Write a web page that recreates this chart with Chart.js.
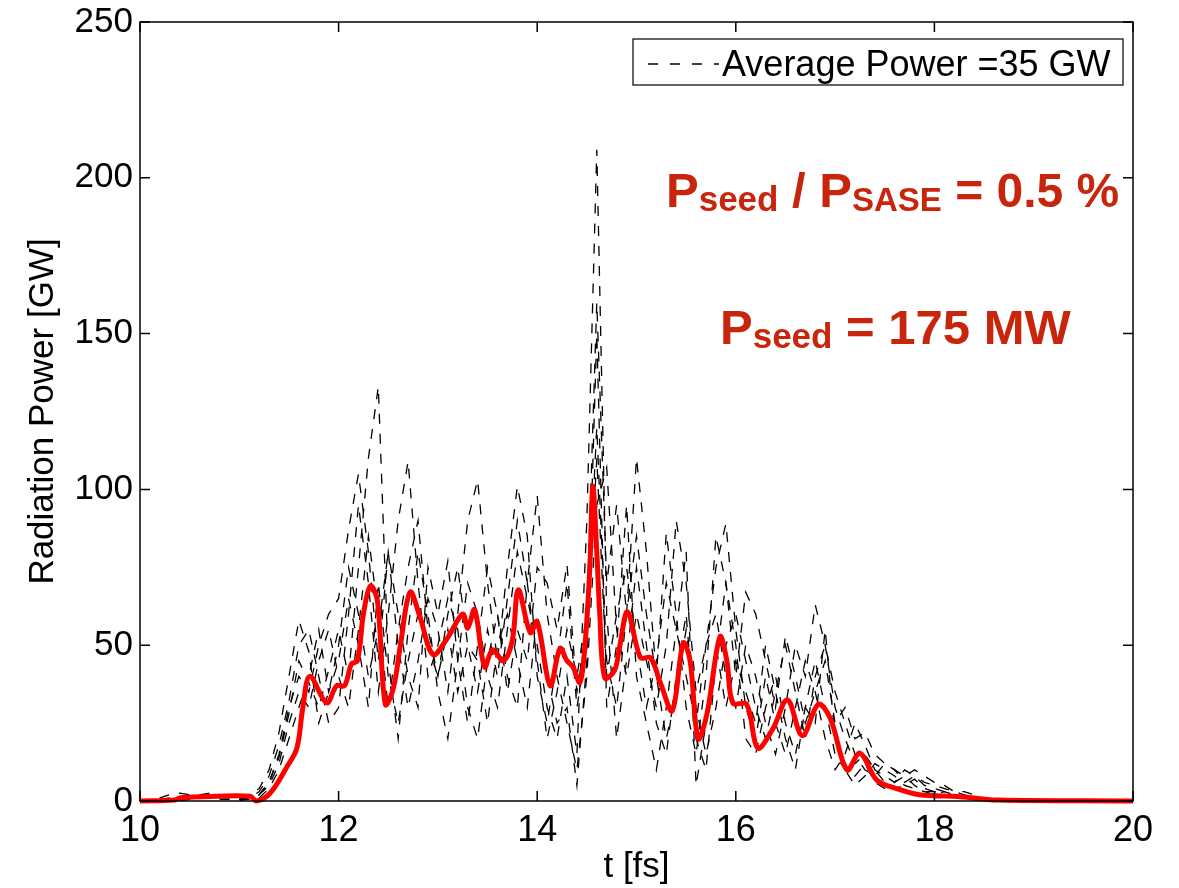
<!DOCTYPE html>
<html>
<head>
<meta charset="utf-8">
<script src="https://cdn.jsdelivr.net/npm/chart.js@4.4.1/dist/chart.umd.min.js"></script>
<style>
  html, body { margin: 0; padding: 0; background: #fff; }
  #wrap { width: 1179px; height: 888px; }
</style>
</head>
<body>
<div id="wrap"><canvas id="power-chart" width="1179" height="888"></canvas></div>
<script>
// time grid of the single shots [fs]
const tShot = [
  10.0, 10.1, 10.2, 10.3, 10.4, 10.5, 10.6, 10.7, 10.8, 10.9,
  11.0, 11.1, 11.2, 11.3, 11.4, 11.5, 11.6, 11.7, 11.8, 11.9,
  12.0, 12.1, 12.2, 12.3, 12.4, 12.5, 12.6, 12.7, 12.8, 12.9,
  13.0, 13.1, 13.2, 13.3, 13.4, 13.5, 13.6, 13.7, 13.8, 13.9,
  14.0, 14.1, 14.2, 14.3, 14.4, 14.5, 14.6, 14.7, 14.8, 14.9,
  15.0, 15.1, 15.2, 15.3, 15.4, 15.5, 15.6, 15.7, 15.8, 15.9,
  16.0, 16.1, 16.2, 16.3, 16.4, 16.5, 16.6, 16.7, 16.8, 16.9,
  17.0, 17.1, 17.2, 17.3, 17.4, 17.5, 17.6, 17.7, 17.8, 17.9,
  18.0, 18.1, 18.2, 18.3, 18.4, 18.5, 18.6, 18.7, 18.8, 18.9,
  19.0, 19.1, 19.2, 19.3, 19.4, 19.5, 19.6, 19.7, 19.8, 19.9,
  20.0
]

// single shot powers [GW] (dashed black)
const shot1 = [
  0, 0, 0.5, 1, 1.5, 2, 2, 1.5, 1, 1,
  1, 0.5, 2, 6, 14, 28, 45, 38, 30, 42,
  55, 40, 75, 110, 133, 45, 20, 55, 80, 60,
  35, 20, 45, 70, 60, 40, 30, 55, 80, 65,
  50, 30, 20, 40, 15, 90, 209, 60, 20, 45,
  75, 50, 25, 15, 40, 60, 20, 10, 45, 70,
  50, 20, 15, 30, 40, 25, 15, 30, 45, 30,
  15, 10, 8, 12, 6, 4, 6, 8, 5, 3,
  3, 2, 1.5, 1, 1, 0.5, 0.3, 0.2, 0.1, 0,
  0, 0, 0, 0, 0, 0, 0, 0, 0, 0,
  0
]
const shot2 = [
  0, 0, 1, 2, 2.5, 2, 1, 1, 2, 2,
  1.5, 1, 3, 8, 18, 32, 50, 55, 40, 25,
  30, 60, 95, 70, 35, 60, 90, 109, 70, 40,
  50, 65, 55, 30, 20, 45, 60, 40, 30, 70,
  45, 20, 35, 55, 40, 60, 160, 70, 95, 60,
  110, 80, 40, 20, 35, 55, 30, 15, 30, 50,
  60, 45, 30, 20, 35, 50, 35, 20, 40, 50,
  35, 25, 15, 10, 8, 12, 10, 6, 8, 6,
  5, 4, 3, 2, 1, 0.5, 0.2, 0, 0, 0,
  0, 0, 0, 0, 0, 0, 0, 0, 0, 0,
  0
]
const shot3 = [
  0, 0, 0, 0.5, 1, 1.5, 2, 2.5, 2, 1.5,
  1, 2, 4, 10, 22, 40, 58, 48, 25, 35,
  50, 75, 60, 40, 55, 80, 50, 30, 45, 65,
  55, 35, 60, 90, 103, 70, 45, 75, 101, 85,
  40, 25, 45, 70, 30, 50, 110, 40, 60, 75,
  50, 30, 45, 70, 55, 40, 25, 50, 75, 89,
  55, 30, 20, 40, 25, 15, 30, 45, 35, 20,
  10, 15, 25, 18, 10, 8, 6, 10, 8, 5,
  4, 3, 2, 1.5, 1, 0.5, 0.2, 0, 0, 0,
  0, 0, 0, 0, 0, 0, 0, 0, 0, 0,
  0
]
const shot4 = [
  0, 0, 0, 0, 0.5, 1, 1, 1.5, 1.5, 1,
  0.5, 1, 2, 5, 12, 25, 35, 30, 45, 55,
  40, 30, 55, 85, 60, 30, 55, 75, 90, 55,
  40, 60, 75, 50, 35, 55, 40, 65, 90, 70,
  98, 60, 40, 25, 10, 40, 95, 107, 55, 40,
  60, 45, 30, 50, 90, 70, 35, 50, 60, 40,
  30, 50, 40, 25, 15, 30, 50, 40, 63, 50,
  30, 20, 12, 15, 10, 6, 4, 5, 7, 4,
  3, 2, 2, 1.5, 1, 0.5, 0.3, 0, 0, 0,
  0, 0, 0, 0, 0, 0, 0, 0, 0, 0,
  0
]
const shot5 = [
  0, 0, 0, 0, 0, 0.5, 1, 1, 0.5, 0.5,
  0.2, 0.5, 2, 6, 15, 30, 40, 35, 50, 60,
  65, 87, 105, 80, 45, 80, 60, 40, 30, 75,
  60, 77, 45, 25, 50, 75, 60, 35, 55, 45,
  75, 70, 55, 76, 35, 55, 120, 45, 30, 60,
  85, 60, 40, 86, 60, 30, 15, 40, 85, 70,
  40, 67, 60, 45, 30, 53, 40, 25, 35, 45,
  25, 30, 20, 22, 15, 12, 10, 8, 10, 8,
  6, 5, 3, 3, 2, 1, 0.5, 0.2, 0, 0,
  0, 0, 0, 0, 0, 0, 0, 0, 0, 0,
  0
]
const shot6 = [
  0, 0, 0, 0.5, 1, 1, 1.5, 2, 1.5, 1,
  0.5, 0.5, 1, 4, 10, 20, 30, 40, 55, 35,
  45, 65, 50, 30, 70, 40, 25, 45, 60, 50,
  40, 55, 35, 50, 45, 25, 50, 60, 45, 30,
  60, 40, 25, 30, 5, 45, 150, 30, 50, 95,
  40, 25, 10, 30, 55, 80, 5, 25, 50, 30,
  45, 35, 25, 50, 35, 20, 10, 30, 25, 55,
  20, 10, 5, 8, 12, 10, 8, 5, 4, 3,
  2, 3, 2, 1, 0.5, 0.3, 0, 0, 0, 0,
  0, 0, 0, 0, 0, 0, 0, 0, 0, 0,
  0
]
const shots = [shot1, shot2, shot3, shot4, shot5, shot6]

// averaged power (red)
const tAvg = [
  10.0, 10.35, 10.40, 10.76, 11.11, 11.17, 11.31, 11.48, 11.58, 11.64,
  11.71, 11.88, 11.98, 12.06, 12.13, 12.19, 12.25, 12.32, 12.39, 12.47,
  12.55, 12.62, 12.72, 12.82, 12.95, 13.09, 13.25, 13.30, 13.37, 13.47,
  13.55, 13.66, 13.75, 13.81, 13.93, 14.00, 14.13, 14.23, 14.30, 14.36,
  14.43, 14.48, 14.53, 14.56, 14.60, 14.63, 14.68, 14.78, 14.83, 14.91,
  15.04, 15.14, 15.24, 15.36, 15.47, 15.54, 15.62, 15.71, 15.84, 15.91,
  15.97, 16.11, 16.22, 16.37, 16.52, 16.67, 16.83, 16.95, 17.12, 17.25,
  17.42, 17.62, 17.85, 18.26, 18.63, 20.0
]
const pAvg = [
  0, 0.3, 1, 1.5, 1.5, 0, 2.5, 11, 17, 30,
  40, 31.5, 37, 37, 44, 45, 60, 69, 64.5, 31,
  36, 49.5, 67, 59, 47, 52, 60, 55.5, 61.4, 43,
  48.5, 45, 51.7, 67.8, 54, 57.6, 37, 49, 45, 43,
  38, 49.5, 75, 101, 80, 60, 39.5, 42, 49.5, 60.7,
  46, 46, 38, 29, 50.7, 45, 20, 28, 52.7, 45,
  31.5, 31, 17, 23, 32.4, 21, 31, 26.6, 10, 15.4,
  6.7, 4, 2, 1.4, 0.3, 0
]

const xTicks = [10, 12, 14, 16, 18, 20]
const yTicks = [0, 50, 100, 150, 200, 250]
const legendText = 'Average Power =35 GW'

const FONT = '"Liberation Sans", Arial, Helvetica, sans-serif'
const NOTE_RED = 'rgb(200, 38, 12)'

const frame = {
  id: 'frame',
  afterDatasetsDraw(chart) {
    const { ctx, chartArea: a, scales: { x, y } } = chart
    ctx.save()
    ctx.strokeStyle = '#000'
    ctx.lineWidth = 1.5
    ctx.setLineDash([])
    ctx.strokeRect(a.left, a.top, a.right - a.left, a.bottom - a.top)
    ctx.beginPath()
    xTicks.forEach(v => {
      const px = x.getPixelForValue(v)
      ctx.moveTo(px, a.bottom); ctx.lineTo(px, a.bottom - 10)
      ctx.moveTo(px, a.top); ctx.lineTo(px, a.top + 10)
    })
    yTicks.forEach(v => {
      const py = y.getPixelForValue(v)
      ctx.moveTo(a.left, py); ctx.lineTo(a.left + 10, py)
      ctx.moveTo(a.right, py); ctx.lineTo(a.right - 10, py)
    })
    ctx.stroke()

    // legend box
    const bx = 633, by = 39, bw = 490, bh = 46
    ctx.fillStyle = '#fff'
    ctx.fillRect(bx, by, bw, bh)
    ctx.lineWidth = 1.2
    ctx.strokeRect(bx, by, bw, bh)
    ctx.beginPath()
    ctx.lineWidth = 1.3
    ctx.setLineDash([10, 12])
    ctx.moveTo(bx + 15, by + 25); ctx.lineTo(bx + 86, by + 25)
    ctx.stroke()
    ctx.setLineDash([])
    ctx.fillStyle = '#000'
    ctx.font = '36px ' + FONT
    ctx.textBaseline = 'alphabetic'
    ctx.fillText(legendText, bx + 89, by + 37)

    // red notes
    const rich = (x0, y0, parts) => {
      let cx = x0
      parts.forEach(p => {
        ctx.font = 'bold ' + p.size + 'px ' + FONT
        ctx.fillText(p.t, cx, y0 + (p.dy || 0))
        cx += ctx.measureText(p.t).width
      })
    }
    ctx.fillStyle = NOTE_RED
    rich(666, 207, [
      { t: 'P', size: 49 }, { t: 'seed', size: 35, dy: 4 },
      { t: ' / P', size: 49 }, { t: 'SASE', size: 33, dy: 4 },
      { t: ' = 0.5 %', size: 48 }
    ])
    rich(720, 344, [
      { t: 'P', size: 49 }, { t: 'seed', size: 35, dy: 4 },
      { t: ' = 175 MW', size: 49 }
    ])
    ctx.restore()
  }
}

const powerChart = () => {
  const datasets = [{
    label: 'avg',
    data: tAvg.map((t, i) => ({ x: t, y: pAvg[i] })),
    borderColor: 'rgb(255, 0, 0)',
    borderWidth: 5,
    pointRadius: 0,
    tension: 0.35,
    clip: false,
    order: 0
  }]
  shots.forEach((s, k) => {
    datasets.push({
      label: 'shot ' + (k + 1),
      data: tShot.map((t, i) => ({ x: t, y: s[i] })),
      borderColor: '#000',
      borderWidth: 1.3,
      borderDash: [10, 10],
      pointRadius: 0,
      tension: 0,
      clip: false,
      order: 1
    })
  })

  const options = {
    type: 'line',
    data: { datasets },
    options: {
      responsive: false,
      animation: false,
      layout: { padding: { top: 22, right: 46, left: 0, bottom: 0 } },
      plugins: { legend: { display: false }, tooltip: { enabled: false } },
      scales: {
        x: {
          type: 'linear', min: 10, max: 20,
          afterBuildTicks: s => { s.ticks = xTicks.map(v => ({ value: v })) },
          afterFit: s => { s.height = 87 },
          grid: { display: false, drawTicks: false },
          border: { display: false },
          ticks: { color: '#000', padding: 8, font: { family: FONT, size: 36 }, maxRotation: 0 },
          title: { display: true, text: 't [fs]', color: '#000', padding: { top: 0, bottom: 0 }, font: { family: FONT, size: 35 } }
        },
        y: {
          min: 0, max: 250,
          afterBuildTicks: s => { s.ticks = yTicks.map(v => ({ value: v })) },
          afterFit: s => { s.width = 140; s.paddingTop = 0 },
          grid: { display: false, drawTicks: false },
          border: { display: false },
          ticks: { color: '#000', padding: 7, font: { family: FONT, size: 35, lineHeight: 0.9 } },
          title: { display: true, text: 'Radiation Power [GW]', color: '#000', padding: { top: 22, bottom: 0 }, font: { family: FONT, size: 35 } }
        }
      }
    },
    plugins: [frame]
  }
  const canvas = document.getElementById('power-chart').getContext('2d')
  new Chart(canvas, options)
}

window.onload = () => {
  powerChart()
}
</script>
</body>
</html>
